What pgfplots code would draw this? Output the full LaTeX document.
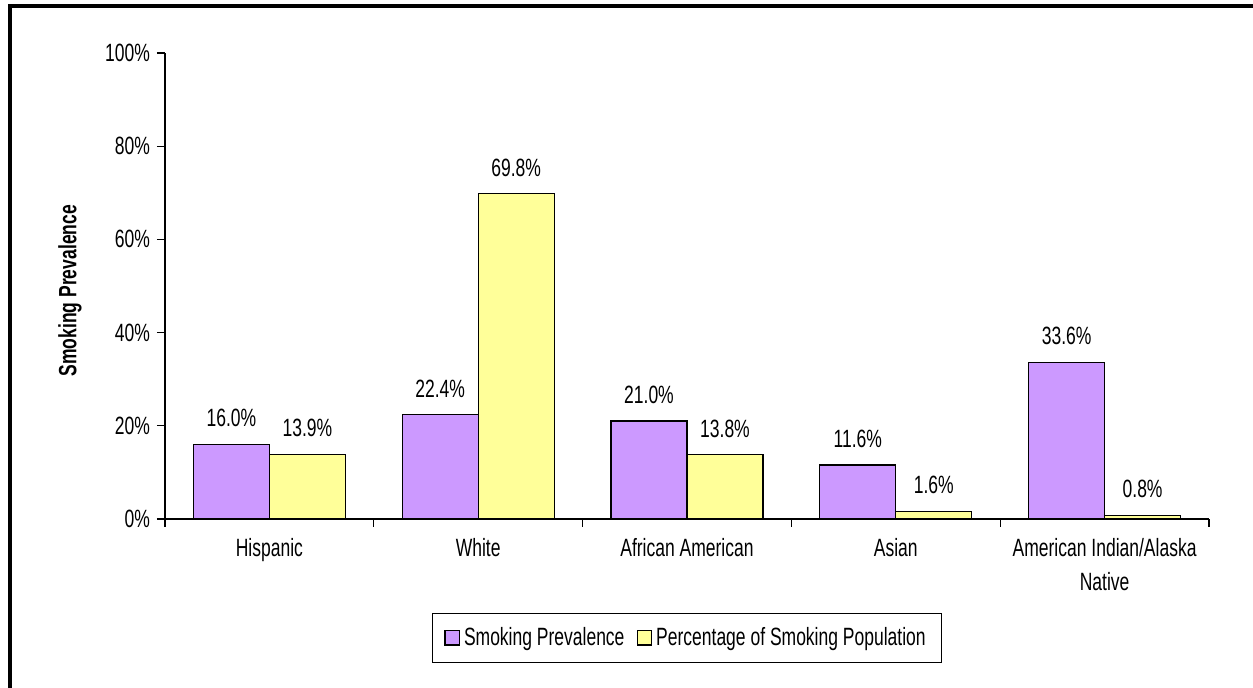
\documentclass[border=0pt]{standalone}
\usepackage{fontspec}
\setmainfont{Liberation Sans}[FakeStretch=0.70]
\usepackage{pgfplots}
\pgfplotsset{compat=1.18}
\definecolor{cpurple}{HTML}{CC99FF}
\definecolor{cyellow}{HTML}{FFFF99}
\newcommand\fs{\fontsize{12.5}{15}\selectfont}
\begin{document}
\begin{tikzpicture}
\useasboundingbox (0pt,0pt) rectangle (626.5pt,344pt);
\begin{scope}
\clip (0pt,0pt) rectangle (626.5pt,344pt);
\draw[line width=2pt] (5.15pt,-10pt) -- (5.15pt,341pt) -- (640pt,341pt);
\end{scope}
\begin{axis}[
  at={(82.5pt,84.5pt)}, anchor=south west,
  scale only axis, width=522pt, height=233pt,
  ymin=0, ymax=100, xmin=-0.5, xmax=4.5,
  axis x line*=bottom, axis y line*=left,
  axis line style={-, line width=0.65pt},
  every tick/.style={black, line width=0.65pt},
  tick align=outside, major tick length=4pt,
  ytick={0,20,...,100},
  yticklabel={\pgfmathprintnumber{\tick}\%},
  /pgf/number format/assume math mode=true,
  xtick={-0.5,0.5,...,4.5}, xticklabels={},
  extra x ticks={0,1,2,3,4},
  extra x tick labels={Hispanic,White,African American,Asian,{American Indian/Alaska\\[2pt]Native}},
  extra x tick style={major tick length=0pt, tick style={draw=none}},
  xticklabel style={font=\fs, align=center, yshift=-6pt},
  yticklabel style={font=\fs},
  ylabel={\bfseries Smoking Prevalence},
  ylabel style={font=\fs, at={(axis description cs:-0.091,0.49)}, anchor=center},
  nodes near coords={\pgfmathprintnumber[fixed,fixed zerofill,precision=1]{\pgfplotspointmeta}\%},
  every node near coord/.append style={font=\fs, anchor=south, yshift=5pt},
  legend style={at={(axis description cs:0.5,-0.255)}, anchor=center,
    legend columns=2, draw=black, line width=0.75pt, font=\fs,
    inner xsep=6pt, inner ysep=5pt,
    /tikz/every even column/.append style={column sep=4pt}},
  ybar=0pt, bar width=0.364,
  clip=false,
]
\addplot[fill=cpurple, draw=black, line width=0.65pt, bar shift=-0.182,
  legend image code/.code={\draw[fill=cpurple, draw=black, line width=0.65pt] (0pt,-3.6pt) rectangle (7.2pt,3.6pt);}]
  coordinates {(0,16.0) (1,22.4) (2,21.0) (3,11.6) (4,33.6)};
\addlegendentry{Smoking Prevalence}
\addplot[fill=cyellow, draw=black, line width=0.65pt, bar shift=0.182,
  legend image code/.code={\draw[fill=cyellow, draw=black, line width=0.65pt] (0pt,-3.6pt) rectangle (7.2pt,3.6pt);}]
  coordinates {(0,13.9) (1,69.8) (2,13.8) (3,1.6) (4,0.8)};
\addlegendentry{Percentage of Smoking Population}
\end{axis}
\end{tikzpicture}
\end{document}
